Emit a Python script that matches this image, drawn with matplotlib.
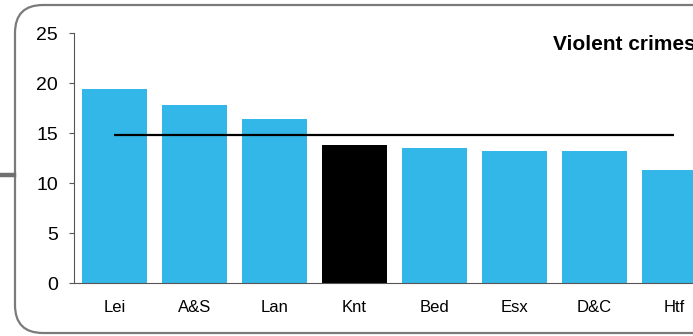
import matplotlib.pyplot as plt
from matplotlib.patches import FancyBboxPatch
from matplotlib.transforms import IdentityTransform
from matplotlib.lines import Line2D

plt.rcParams['font.family'] = ['Liberation Sans', 'DejaVu Sans']

# Datos
areas = ['Lei', 'A&S', 'Lan', 'Knt', 'Bed', 'Esx', 'D&C', 'Htf']
valores = [19.4, 17.8, 16.4, 13.8, 13.5, 13.2, 13.2, 11.3]
media = 14.8
destacado = 'Knt'
titulo = 'Violent crimes'

azul = '#32B7E8'
colores = ['black' if a == destacado else azul for a in areas]

fig = plt.figure(figsize=(6.93, 3.36), dpi=100)

# Marco redondeado (en pixeles)
marco = FancyBboxPatch((15, 3), 740, 328, boxstyle='round,pad=0,rounding_size=28',
                       transform=IdentityTransform(), facecolor='none',
                       edgecolor='#7a7a7a', linewidth=1.6, zorder=0)
fig.patches.append(marco)
fig.lines.append(Line2D([0, 14], [161, 161], transform=IdentityTransform(),
                        color='#707070', linewidth=3.2))

ax = fig.add_axes([74 / 693, 53 / 336, 640 / 693, 250 / 336])
ax.set_facecolor('none')
x = range(len(areas))
ax.bar(x, valores, width=0.8125, color=colores, zorder=2)
ax.hlines(media, 0, len(areas) - 1, color='black', linewidth=1.6, zorder=3)

ax.set_xlim(-0.506, len(areas) - 0.5)
ax.set_ylim(0, 25)
ax.set_yticks([0, 5, 10, 15, 20, 25])
ax.set_xticks(list(x))
ax.set_xticklabels(areas)

for s in ['top', 'right']:
    ax.spines[s].set_visible(False)
ax.spines['left'].set_color('#555555')
ax.spines['bottom'].set_color('#555555')
ax.tick_params(axis='y', length=3.6, color='#555555', pad=8, labelsize=14)
ax.tick_params(axis='x', length=0, pad=12, labelsize=12)

fig.text(553 / 693, 1 - 44 / 336, titulo, fontsize=15, fontweight='bold',
         va='center', ha='left')

fig.savefig('out.png', dpi=100)
